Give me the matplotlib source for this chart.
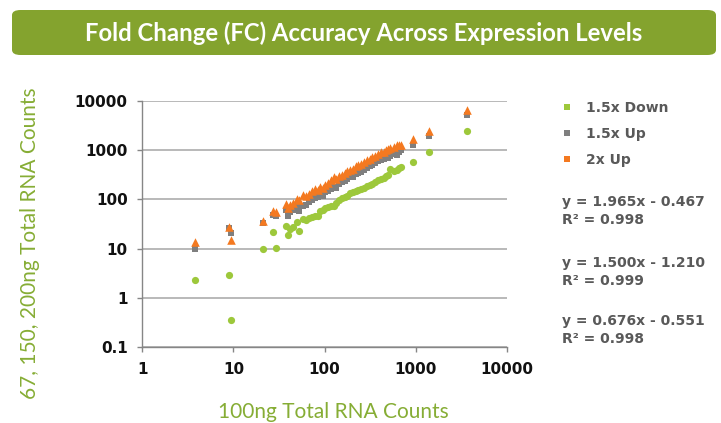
import matplotlib
matplotlib.use("Agg")
import matplotlib.pyplot as plt
from matplotlib.lines import Line2D
from matplotlib.patches import FancyBboxPatch

# 100ng total RNA counts (x) and the three diluted series (y)
x_100ng = [3.8, 9.0, 9.3, 21, 27, 29, 38, 40, 42, 45, 50, 53, 58, 62, 67, 72,
           78, 84, 90, 96, 102, 110, 118, 126, 135, 145, 155, 166, 178, 192,
           205, 220, 236, 252, 270, 292, 312, 335, 360, 385, 415, 445, 470,
           495, 520, 580, 625, 660, 690, 930, 1400, 3700]
down_15x = [2.35, 2.84, 0.35, 9.9, 21.6, 10.5, 29, 19, 25, 28, 34, 23, 40, 38,
            42, 44, 47, 46, 58, 62, 66, 70, 72, 75, 86, 96, 106, 112, 120, 138,
            142, 148, 156, 165, 172, 183, 196, 210, 225, 245, 258, 276, 300,
            316, 413, 380, 398, 425, 456, 588, 898, 2400]
up_15x = [10, 26, 21, 33, 49, 46, 61, 46, 55, 62, 72, 58, 74, 78, 88, 96, 106,
          112, 124, 118, 140, 150, 165, 178, 172, 205, 228, 240, 262, 292, 290,
          325, 350, 365, 400, 440, 482, 500, 545, 590, 640, 650, 720, 700, 760,
          820, 808, 940, 990, 1280, 1950, 5300]
up_2x = [13.9, 28, 15, 37, 59, 55, 81, 66, 78, 85, 101, 98, 124, 118, 130, 150,
         162, 156, 180, 172, 200, 220, 250, 290, 265, 300, 320, 345, 380, 400,
         420, 470, 500, 520, 580, 640, 660, 720, 770, 850, 940, 900, 1000, 1050,
         1100, 1180, 1290, 1250, 1300, 1680, 2500, 6600]

series_names = ["1.5x Down", "1.5x Up", "2x Up"]
equations = ["y = 1.965x - 0.467\nR² = 0.998",
             "y = 1.500x - 1.210\nR² = 0.999",
             "y = 0.676x - 0.551\nR² = 0.998"]
ticks = [0.1, 1, 10, 100, 1000, 10000]
tick_labels = ["0.1", "1", "10", "100", "1000", "10000"]

GREEN = "#9DC83B"
GREY = "#7F7F7F"
ORANGE = "#F47920"
LABEL_GREEN = "#86AD35"
TEXT_GREY = "#595959"

W, H = 721, 423
fig = plt.figure(figsize=(W / 100, H / 100), dpi=100)

# title banner
banner = FancyBboxPatch((12 / W, 1 - 55 / H), 704 / W, 45 / H,
                        boxstyle="round,pad=0,rounding_size=0.012",
                        transform=fig.transFigure, facecolor="#84A32E",
                        edgecolor="none")
fig.patches.append(banner)
fig.text(364 / W, 1 - 33 / H, "Fold Change (FC) Accuracy Across Expression Levels",
         ha="center", va="center", color="white", fontsize=17.2,
         family="Lato", weight="bold")

ax = fig.add_axes([142.3 / W, 1 - 347 / H, 364.4 / W, 246 / H])
ax.set_xscale("log")
ax.set_yscale("log")
ax.set_xlim(1, 10000)
ax.set_ylim(0.1, 10000)

ax.scatter(x_100ng, down_15x, s=27, marker="o", color=GREEN, linewidths=0, zorder=3)
ax.scatter(x_100ng, up_15x, s=25, marker="s", color=GREY, linewidths=0, zorder=4)
ax.scatter(x_100ng, up_2x, s=38, marker="^", color=ORANGE, linewidths=0, zorder=5)

ax.set_xticks(ticks[1:])
ax.set_xticklabels(tick_labels[1:])
ax.set_yticks(ticks)
ax.set_yticklabels(tick_labels)
ax.minorticks_off()
ax.grid(axis="y", color="#A6A6A6", linewidth=1.1)
ax.set_axisbelow(True)
for side in ["top", "right"]:
    ax.spines[side].set_visible(False)
for side in ["left", "bottom"]:
    ax.spines[side].set_color("#868686")
    ax.spines[side].set_linewidth(1.0)
ax.tick_params(axis="both", direction="out", color="#868686", width=1.0,
               length=3.5, pad=7, labelcolor="#111111")
for lab in ax.get_xticklabels() + ax.get_yticklabels():
    lab.set_family("DejaVu Sans")
    lab.set_weight("bold")
    lab.set_fontsize(10.9)

fig.text(333 / W, 1 - 412 / H, "100ng Total RNA Counts", ha="center",
         va="center", color=LABEL_GREEN, fontsize=15, family="Lato")
fig.text(30 / W, 1 - 243.5 / H, "67, 150, 200ng Total RNA Counts", ha="center",
         va="center", rotation=90, color=LABEL_GREEN, fontsize=15, family="Lato")

handles = [Line2D([], [], ls="", marker="s", markersize=4.3, color=c, mew=0)
           for c in (GREEN, GREY, ORANGE)]
leg = fig.legend(handles, series_names, loc="upper left",
                 bbox_to_anchor=(561.5 / W, 1 - 101 / H), frameon=False,
                 borderpad=0, borderaxespad=0, handlelength=0.8,
                 handletextpad=1.0, labelspacing=0.85,
                 prop={"family": "DejaVu Sans", "weight": "bold", "size": 10})
for t in leg.get_texts():
    t.set_color(TEXT_GREY)

for eq, yc in zip(equations, [211, 272, 330]):
    fig.text(562 / W, 1 - yc / H, eq, ha="left", va="center", color=TEXT_GREY,
             fontsize=10, family="DejaVu Sans", weight="bold", linespacing=1.36)

fig.savefig("out.png", dpi=100)
